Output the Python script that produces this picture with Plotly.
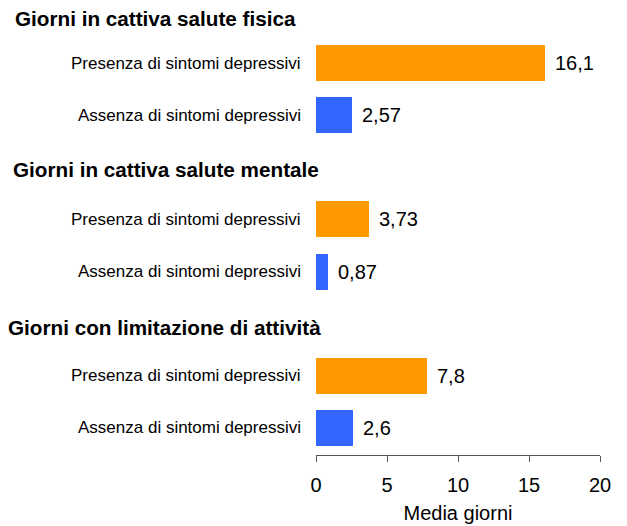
import plotly.graph_objects as go

sections = ["Giorni in cattiva salute fisica",
            "Giorni in cattiva salute mentale",
            "Giorni con limitazione di attività"]
groups = ["Presenza di sintomi depressivi", "Assenza di sintomi depressivi"]
presenza = [16.1, 3.73, 7.8]
assenza = [2.57, 0.87, 2.6]
x_ticks = [0, 5, 10, 15, 20]
x_title = "Media giorni"

colors = ["#FF9900", "#3366FF"]
FONT = "Liberation Sans, Arial, sans-serif"

# layout positions (y in page-pixel units, 0 at top)
SEC_START, SEC_STEP, PAIR_STEP = 63, 156.3, 52.2
title_off = [45, 50, 48]
title_x = [15, 13, 8]
PLOT_LEFT, PLOT_RIGHT, PLOT_BOTTOM = 316, 600, 455

fig = go.Figure()
annotations = []
for gi, (gname, vals) in enumerate(zip(groups, [presenza, assenza])):
    ys = [SEC_START + i * SEC_STEP + gi * PAIR_STEP for i in range(len(sections))]
    fig.add_trace(go.Bar(
        x=vals, y=ys, orientation="h", width=36,
        marker=dict(color=colors[gi], line=dict(width=0)),
        name=gname, showlegend=False, hoverinfo="x"))
    for v, y in zip(vals, ys):
        annotations.append(dict(
            x=v, y=y, xref="x", yref="y", text=str(v).replace(".", ","),
            showarrow=False, xanchor="left", yanchor="middle", xshift=8,
            font=dict(size=20, color="#000", family=FONT)))
        annotations.append(dict(
            x=0, y=y, xref="paper", yref="y", text=gname,
            showarrow=False, xanchor="right", yanchor="middle", xshift=-13,
            font=dict(size=17, color="#000", family=FONT)))

for i, s in enumerate(sections):
    annotations.append(dict(
        x=0, y=SEC_START + i * SEC_STEP - title_off[i], xref="paper",
        yref="y", text="<b>" + s + "</b>", showarrow=False,
        xanchor="left", yanchor="middle", xshift=title_x[i] - PLOT_LEFT - 2,
        font=dict(size=20.7, color="#000", family=FONT)))

fig.update_layout(
    width=627, height=526,
    margin=dict(l=PLOT_LEFT, r=627 - PLOT_RIGHT, t=0, b=526 - PLOT_BOTTOM, pad=0),
    paper_bgcolor="white", plot_bgcolor="white",
    annotations=annotations,
    bargap=0,
    xaxis=dict(range=[0, 20], tickvals=x_ticks, ticktext=[str(t) for t in x_ticks],
               showgrid=False, zeroline=False, showline=True, linecolor="#555",
               linewidth=1, ticks="outside", ticklen=6, tickcolor="#555",
               ticklabelstandoff=6,
               tickfont=dict(size=20, color="#000", family=FONT),
               title=dict(text=x_title, font=dict(size=20, color="#000", family=FONT),
                          standoff=10)),
    yaxis=dict(range=[PLOT_BOTTOM, 0], showgrid=False, zeroline=False,
               showline=False, showticklabels=False, ticks=""),
)

fig.write_html("out.html", config={"displayModeBar": False},
               post_script="document.body.style.margin='0';document.body.style.overflow='hidden';")
